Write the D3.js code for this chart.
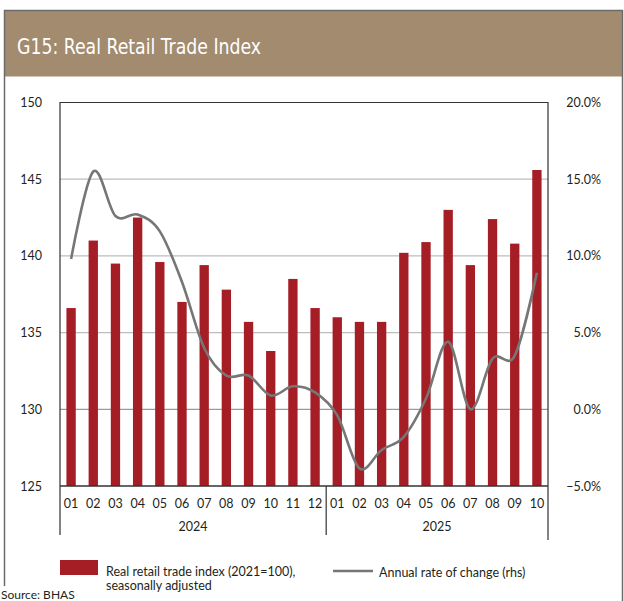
<!DOCTYPE html>
<html>
<head>
<meta charset="utf-8">
<script src="https://cdn.jsdelivr.net/npm/d3@7"></script>
<style>
  body { margin: 0; background: #fff; }
  svg { display: block; font-family: Lato, "Open Sans", sans-serif; }
</style>
</head>
<body>
<div id="container"></div>
<script>
const WIDTH = 624;
const HEIGHT = 601;
const LEFT = 60;
const RIGHT = 548;
const TOP = 102.5;
const BOTTOM = 486;

const months = ["01", "02", "03", "04", "05", "06", "07", "08", "09", "10", "11", "12",
  "01", "02", "03", "04", "05", "06", "07", "08", "09", "10"];
const years = ["2024", "2024", "2024", "2024", "2024", "2024", "2024", "2024", "2024", "2024", "2024", "2024",
  "2025", "2025", "2025", "2025", "2025", "2025", "2025", "2025", "2025", "2025"];
const retailIndex = [136.6, 141.0, 139.5, 142.5, 139.6, 137.0, 139.4, 137.8, 135.7, 133.8, 138.5, 136.6,
  136.0, 135.7, 135.7, 140.2, 140.9, 143.0, 139.4, 142.4, 140.8, 145.6];
const annualChange = [9.8, 15.5, 12.6, 12.7, 11.6, 8.3, 4.0, 2.2, 2.2, 0.9, 1.5, 1.1,
  -0.4, -3.85, -2.65, -1.8, 0.7, 4.4, 0.0, 3.3, 3.5, 8.9];
const leftTicks = [125, 130, 135, 140, 145, 150];
const rightTicks = [-5, 0, 5, 10, 15, 20];

const periods = months.map((m, i) => years[i] + "-" + m);

const svg = d3
  .select("div#container")
  .append("svg")
  .attr("width", WIDTH)
  .attr("height", HEIGHT);

// frame + title band
svg.append("rect")
  .attr("x", 4.5).attr("y", 10.5)
  .attr("width", 618).attr("height", 66)
  .attr("fill", "#a28b6f");
svg.append("path")
  .attr("d", "M4.5,586 V10.5 H622.5 V601")
  .attr("fill", "none")
  .attr("stroke", "#6b6b6b")
  .attr("stroke-width", 1.5);
svg.append("text")
  .attr("x", 17)
  .attr("y", 54)
  .attr("fill", "#fff")
  .attr("textLength", 244)
  .attr("lengthAdjust", "spacingAndGlyphs")
  .style("font-family", "'Liberation Sans Narrow', 'DejaVu Sans Condensed', sans-serif")
  .style("font-size", "21px")
  .text("G15: Real Retail Trade Index");

const xScale = d3.scaleBand().domain(periods).range([LEFT, RIGHT]).paddingInner(0.58).paddingOuter(0.29);
const yScale = d3.scaleLinear().domain([125, 150]).range([BOTTOM, TOP]);
const yRight = d3.scaleLinear().domain([-5, 20]).range([BOTTOM, TOP]);

// gridlines
svg.append("g")
  .selectAll("line")
  .data(leftTicks.slice(1, -1))
  .join("line")
  .attr("x1", LEFT).attr("x2", RIGHT)
  .attr("y1", (d) => yScale(d)).attr("y2", (d) => yScale(d))
  .attr("stroke", (d) => (d === 130 ? "#9a9a9a" : "#bdbdbd"))
  .attr("stroke-width", 1.2);

// bars
svg.append("g")
  .selectAll("rect")
  .data(retailIndex)
  .join("rect")
  .attr("x", (_, i) => xScale(periods[i]))
  .attr("width", xScale.bandwidth())
  .attr("y", (d) => yScale(d))
  .attr("height", (d) => yScale(125) - yScale(d))
  .attr("fill", "#a51d25");

// line
const line = d3.line()
  .x((_, i) => xScale(periods[i]) + xScale.bandwidth() / 2)
  .y((d) => yRight(d))
  .curve(d3.curveCatmullRom.alpha(0));
svg.append("path")
  .datum(annualChange)
  .attr("d", line)
  .attr("fill", "none")
  .attr("stroke", "#767676")
  .attr("stroke-width", 2.6);

// plot frame
svg.append("path")
  .attr("d", `M${LEFT},535 V${TOP} H${RIGHT} V540`)
  .attr("fill", "none")
  .attr("stroke", "#333")
  .attr("stroke-width", 1.2);
svg.append("line")
  .attr("x1", LEFT).attr("x2", RIGHT)
  .attr("y1", BOTTOM).attr("y2", BOTTOM)
  .attr("stroke", "#333")
  .attr("stroke-width", 1.5);
const sep = xScale("2025-01") - (xScale.step() * xScale.paddingInner()) / 2;
svg.append("line")
  .attr("x1", sep).attr("x2", sep)
  .attr("y1", BOTTOM).attr("y2", 535)
  .attr("stroke", "#333")
  .attr("stroke-width", 1.2);

// axes
const yAxis = d3.axisLeft(yScale).tickValues(leftTicks).tickSize(0).tickPadding(18);
svg.append("g")
  .attr("transform", `translate(${LEFT}, 0)`)
  .call(yAxis)
  .call((g) => g.select(".domain").remove());

const yAxisRight = d3.axisRight(yRight).tickValues(rightTicks).tickSize(0)
  .tickFormat((d) => d3.format(".1f")(d) + "%");
svg.append("g")
  .attr("transform", `translate(${RIGHT}, 0)`)
  .call(yAxisRight)
  .call((g) => g.select(".domain").remove())
  .call((g) => g.selectAll("text").attr("x", 53).attr("text-anchor", "end"));

const xAxis = d3.axisBottom(xScale).tickSize(0).tickPadding(13.5).tickFormat((d) => d.slice(5));
svg.append("g")
  .attr("transform", `translate(0, ${BOTTOM})`)
  .call(xAxis)
  .call((g) => g.select(".domain").remove());

svg.selectAll(".tick text")
  .attr("fill", "#231f20")
  .style("font-size", "12.5px")
  .style("font-family", "Lato, sans-serif");

const yearNames = Array.from(new Set(years));
svg.append("g")
  .selectAll("text")
  .data(yearNames)
  .join("text")
  .attr("x", (y) => {
    const ps = periods.filter((p) => p.startsWith(y));
    return (xScale(ps[0]) + xScale(ps[ps.length - 1]) + xScale.bandwidth()) / 2;
  })
  .attr("y", 531)
  .attr("text-anchor", "middle")
  .attr("fill", "#231f20")
  .style("font-size", "12.5px")
  .text((d) => d);

// legend
const legend = svg.append("g").style("font-size", "12.5px").attr("fill", "#231f20");
legend.append("rect").attr("x", 60).attr("y", 560).attr("width", 38).attr("height", 15).attr("fill", "#a51d25");
legend.append("text").attr("x", 106).attr("y", 576).text("Real retail trade index (2021=100),");
legend.append("text").attr("x", 106).attr("y", 590).text("seasonally adjusted");
legend.append("line").attr("x1", 333).attr("x2", 373).attr("y1", 571).attr("y2", 571)
  .attr("stroke", "#767676").attr("stroke-width", 2.6);
legend.append("text").attr("x", 379).attr("y", 577).text("Annual rate of change (rhs)");
svg.append("text").attr("x", 1).attr("y", 599).attr("fill", "#231f20")
  .style("font-size", "12px").text("Source: BHAS");
</script>
</body>
</html>
